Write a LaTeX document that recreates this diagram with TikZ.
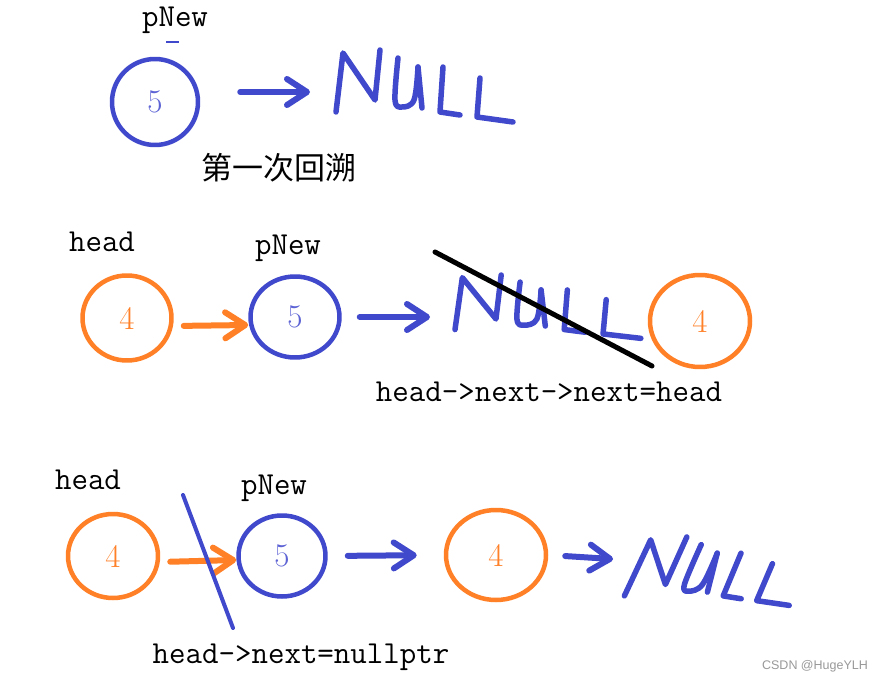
\documentclass[tikz,border=0pt]{standalone}
\usepackage{fontspec}
\newfontfamily\cjkfont{Noto Sans CJK SC}
\newfontfamily\markfont{Liberation Sans}
\usetikzlibrary{shapes.geometric, arrows.meta, positioning}
\definecolor{penblue}{RGB}{64,72,204}
\definecolor{penorange}{RGB}{255,128,39}

\begin{document}
\begin{tikzpicture}[x=1pt, y=-1pt, line cap=round, line join=round]
        % Define styles
        \tikzstyle{txt} = [inner sep=0pt, font=\ttfamily\fontsize{32}{36}\selectfont]
        \tikzstyle{bluenode} = [draw=penblue, ellipse, line width=4.5pt, inner sep=0pt, text=penblue!85!white, font=\fontsize{33}{36}\selectfont]
        \tikzstyle{orangenode} = [draw=penorange, ellipse, line width=4.5pt, inner sep=0pt, text=penorange, font=\fontsize{33}{36}\selectfont]
        \tikzstyle{hand} = [draw=penblue, line width=5.5pt]
        \tikzstyle{bluearr} = [penblue, line width=6pt, -{Straight Barb[length=20pt, width=26pt, round]}]
        \tikzstyle{orangearr} = [penorange, line width=6pt, -{Straight Barb[length=20pt, width=26pt, round]}]
        \tikzstyle{strike} = [line width=5pt]
        \tikzset{nullword/.pic={
            \draw[hand] (0,62) -- (7,3) -- (39,50) -- (44,0);
            \draw[hand] plot[smooth, tension=0.6] coordinates {(62,8) (59,50) (66,57) (78,50) (82,17)};
            \draw[hand] (82,17) -- (86,58);
            \draw[hand] (107,17) -- (104,62) -- (124,65);
            \draw[hand] (144,28) -- (141,67) -- (177,72);
        }}

        \fill[white] (0,0) rectangle (879,682);
        \useasboundingbox (0,0) rectangle (879,682);

        % First backtrack
        \node[txt] (p1lbl) at (175,20) {pNew};
        \draw[penblue, line width=1.5pt, line cap=butt] (166,42) -- (179,42);
        \node[bluenode, minimum width=86pt, minimum height=86pt] (p1) at (155,102) {5};
        \pic at (336,50) {nullword};
        \coordinate (n1) at (336,92);
        \node[inner sep=0pt, font=\cjkfont\fontsize{31}{34}\selectfont] (title) at (279,168) {第一次回溯};

        % Second row
        \node[txt] (h2lbl) at (102,242) {head};
        \node[orangenode, minimum width=89pt, minimum height=85pt] (h2) at (127,318) {4};
        \node[txt] (p2lbl) at (288,248) {pNew};
        \node[bluenode, minimum width=89pt, minimum height=81pt] (p2) at (295,317) {5};
        \pic[xscale=1.05, yscale=0.88] at (455,275) {nullword};
        \coordinate (n2) at (455,317);
        \node[orangenode, minimum width=100pt, minimum height=92pt] (t2) at (700,321) {4};
        \node[txt] (code2) at (549,392) {head->next->next=head};

        % Third row
        \node[txt] (h3lbl) at (88,480) {head};
        \node[orangenode, minimum width=90pt, minimum height=84pt] (h3) at (113,556) {4};
        \node[txt] (p3lbl) at (274,488) {pNew};
        \node[bluenode, minimum width=87pt, minimum height=81pt] (p3) at (282,556) {5};
        \node[orangenode, minimum width=100pt, minimum height=90pt] (t3) at (496,555) {4};
        \pic[xslant=0.35, xscale=0.95, yscale=0.95] at (645,537) {nullword};
        \coordinate (n3) at (628,560);
        \node[txt] (code3) at (301,657) {head->next=nullptr};
        \node[inner sep=0pt, text=black!40, font=\markfont\fontsize{12.5}{14}\selectfont] (mark) at (815,666) {CSDN @HugeYLH};

        % Edges
        \draw[bluearr, shorten <=40pt, shorten >=26pt] (p1.east |- n1) -- (n1);
        \draw[orangearr, shorten <=10pt] ([yshift=-8pt]h2.east) -- ([yshift=-8pt]p2.west);
        \draw[bluearr, shorten <=18pt, shorten >=25pt] (p2.east) -- (n2);
        \draw[orangearr, shorten <=10pt] ([yshift=-6pt]h3.east) -- ([yshift=-4pt]p3.west);
        \draw[bluearr, shorten <=20pt, shorten >=27pt] (p3.east) -- (t3.west);
        \draw[bluearr, shorten <=17pt, shorten >=15pt] (t3.east) -- (n3);

        % Crossed out links
        \draw[strike] (435,252) -- (652,366);
        \draw[strike, penblue, line width=4pt] (183,495) -- (233,628);
\end{tikzpicture}
\end{document}
